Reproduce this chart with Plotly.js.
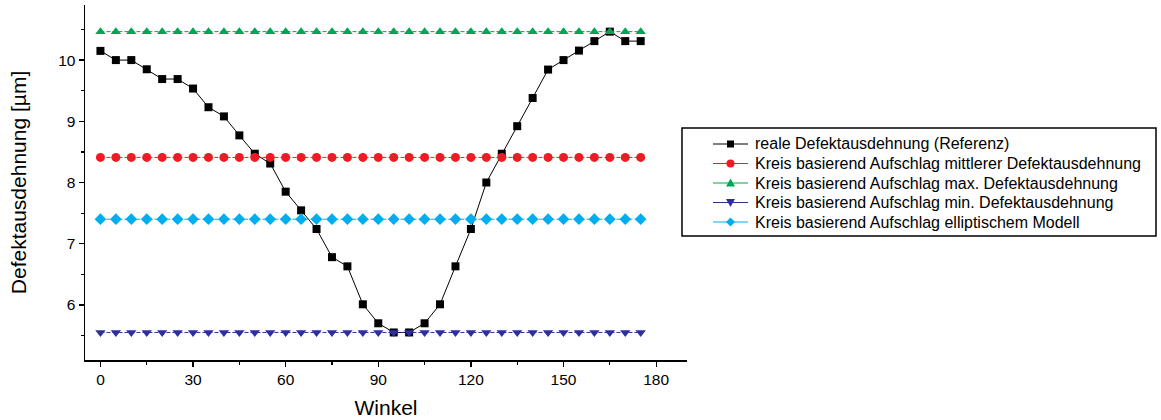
<!DOCTYPE html>
<html>
<head>
<meta charset="utf-8">
<script src="https://cdn.plot.ly/plotly-3.0.1.min.js"></script>
<style>html,body{margin:0;padding:0;background:#fff;}#chart{width:1161px;height:420px;}</style>
</head>
<body>
<div id="chart"></div>
<script>
const winkel = [0,5,10,15,20,25,30,35,40,45,50,55,60,65,70,75,80,85,90,95,100,105,110,115,120,125,130,135,140,145,150,155,160,165,170,175];
const realeDefekt = [10.15,10.0,10.0,9.85,9.69,9.69,9.535,9.23,9.08,8.77,8.47,8.31,7.85,7.545,7.24,6.78,6.63,6.01,5.70,5.55,5.55,5.70,6.01,6.63,7.24,8.0,8.47,8.92,9.38,9.845,10.0,10.155,10.31,10.465,10.31,10.31];
const mittlererWert = 8.41;
const maxWert = 10.465;
const minWert = 5.55;
const ellipWert = 7.40;
const kreisMittel = winkel.map(() => mittlererWert);
const kreisMax = winkel.map(() => maxWert);
const kreisMin = winkel.map(() => minWert);
const kreisEllip = winkel.map(() => ellipWert);
const seriesNames = [
  "reale Defektausdehnung (Referenz)",
  "Kreis basierend Aufschlag mittlerer Defektausdehnung",
  "Kreis basierend Aufschlag max. Defektausdehnung",
  "Kreis basierend Aufschlag min. Defektausdehnung",
  "Kreis basierend Aufschlag elliptischem Modell"
];
const seriesColors = ["#000000", "#ED1C24", "#00A651", "#2E3192", "#00AEEF"];
const seriesSymbols = ["square", "circle", "triangle-up", "triangle-down", "diamond"];
const xTicks = [0,30,60,90,120,150,180];
const yTicks = [6,7,8,9,10];

const font = "Liberation Sans, Arial, sans-serif";
const W = 1161, H = 420;
const M = {l: 85, r: 474, t: 5, b: 60};
const PW = W - M.l - M.r, PH = H - M.t - M.b;
const px2x = px => (px - M.l) / PW;
const py2y = py => 1 - (py - M.t) / PH;

const seriesY = [realeDefekt, kreisMittel, kreisMax, kreisMin, kreisEllip];
const traces = seriesY.map((ys, i) => ({
  x: winkel, y: ys, name: seriesNames[i], mode: "lines+markers",
  line: i === 0 ? {color: seriesColors[i], width: 1} : {color: seriesColors[i], width: 1, dash: "4px,2px"},
  marker: {symbol: seriesSymbols[i], size: i === 0 ? 8 : 9, color: seriesColors[i]}
}));

// manual legend (layout decoration)
const shapes = [];
const annotations = [];
const box = {x0: 682, x1: 1156, y0: 128, y1: 236};
shapes.push({type: "rect", xref: "paper", yref: "paper",
  x0: px2x(box.x0), x1: px2x(box.x1), y0: py2y(box.y1), y1: py2y(box.y0),
  line: {color: "#000", width: 1.5}, fillcolor: "#fff", layer: "above"});
function pathFrom(pts) {
  return "M" + pts.map(p => px2x(p[0]) + "," + py2y(p[1])).join("L") + "Z";
}
seriesNames.forEach((name, i) => {
  const cy = 144 + 19.5 * i;
  const c = seriesColors[i];
  const mx = 730.5;
  shapes.push({type: "line", xref: "paper", yref: "paper",
    x0: px2x(713), x1: px2x(748), y0: py2y(cy), y1: py2y(cy),
    line: {color: c, width: 1.2}, layer: "above"});
  const s = seriesSymbols[i];
  let pts;
  if (s === "square") pts = [[mx-3.5,cy-3.5],[mx+3.5,cy-3.5],[mx+3.5,cy+3.5],[mx-3.5,cy+3.5]];
  else if (s === "triangle-up") pts = [[mx,cy-4.5],[mx+4.5,cy+3.5],[mx-4.5,cy+3.5]];
  else if (s === "triangle-down") pts = [[mx,cy+4.5],[mx+4.5,cy-3.5],[mx-4.5,cy-3.5]];
  else if (s === "diamond") pts = [[mx,cy-4.5],[mx+4.5,cy],[mx,cy+4.5],[mx-4.5,cy]];
  if (s === "circle") {
    shapes.push({type: "circle", xref: "paper", yref: "paper",
      x0: px2x(mx-4), x1: px2x(mx+4), y0: py2y(cy+4), y1: py2y(cy-4),
      fillcolor: c, line: {width: 0}, layer: "above"});
  } else {
    shapes.push({type: "path", xref: "paper", yref: "paper", path: pathFrom(pts),
      fillcolor: c, line: {width: 0}, layer: "above"});
  }
  annotations.push({xref: "paper", yref: "paper", x: px2x(754), y: py2y(cy),
    xanchor: "left", yanchor: "middle", showarrow: false, text: name,
    font: {family: font, size: 16, color: "#000"}, borderpad: 0});
});

const layout = {
  width: W, height: H,
  margin: {l: M.l, r: M.r, t: M.t, b: M.b, pad: 0},
  paper_bgcolor: "#fff", plot_bgcolor: "#fff",
  font: {family: font, color: "#000", size: 15.5},
  showlegend: false,
  shapes: shapes,
  annotations: annotations,
  xaxis: {
    range: [-5, 190], showgrid: false, zeroline: false,
    showline: true, linecolor: "#000", linewidth: 1.5,
    ticks: "outside", ticklen: 5, tickwidth: 1.2, tickcolor: "#000",
    tickvals: xTicks, ticktext: xTicks.map(String),
    minor: {tickvals: [15,45,75,105,135,165], ticks: "outside", ticklen: 3, tickwidth: 1.2, tickcolor: "#000"},
    tickfont: {size: 15.5},
    title: {text: "Winkel", font: {size: 21}, standoff: 13}
  },
  yaxis: {
    range: [5.1, 10.9], showgrid: false, zeroline: false,
    showline: true, linecolor: "#000", linewidth: 1.5,
    ticks: "outside", ticklen: 5, tickwidth: 1.2, tickcolor: "#000",
    tickvals: yTicks, ticktext: yTicks.map(String),
    minor: {tickvals: [5.5,6.5,7.5,8.5,9.5,10.5], ticks: "outside", ticklen: 3, tickwidth: 1.2, tickcolor: "#000"},
    tickfont: {size: 15.5},
    title: {text: "Defektausdehnung [µm]", font: {size: 21}, standoff: 26}
  }
};

Plotly.newPlot("chart", traces, layout, {displayModeBar: false, staticPlot: true});
</script>
</body>
</html>
